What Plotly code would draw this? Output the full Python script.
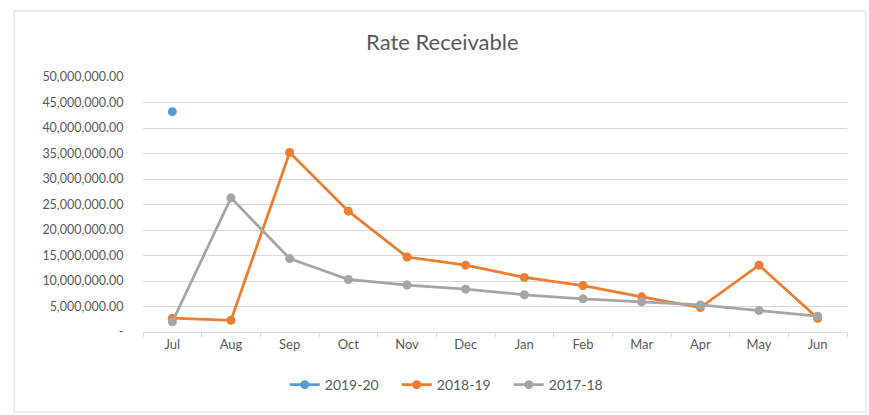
import plotly.graph_objects as go

months = ["Jul", "Aug", "Sep", "Oct", "Nov", "Dec", "Jan", "Feb", "Mar", "Apr", "May", "Jun"]

fy_2019_20 = [43200000, None, None, None, None, None, None, None, None, None, None, None]
fy_2018_19 = [2700000, 2300000, 35200000, 23700000, 14700000, 13100000,
              10700000, 9100000, 6900000, 4800000, 13100000, 2700000]
fy_2017_18 = [2000000, 26300000, 14400000, 10300000, 9200000, 8400000,
              7300000, 6500000, 5900000, 5300000, 4200000, 3100000]

y_ticks = [0, 5e6, 10e6, 15e6, 20e6, 25e6, 30e6, 35e6, 40e6, 45e6, 50e6]
y_tick_text = ["-"] + [f"{v:,.2f}" for v in y_ticks[1:]]

INK = "#595959"
GRID = "#d9d9d9"
FONT = "Lato, 'Open Sans', sans-serif"

series = [
    ("2019-20", fy_2019_20, "#5B9BD5"),
    ("2018-19", fy_2018_19, "#ED7D31"),
    ("2017-18", fy_2017_18, "#A5A5A5"),
]

fig = go.Figure()
for name, vals, color in series:
    fig.add_trace(go.Scatter(
        x=months, y=vals, name=name, mode="lines+markers",
        line=dict(color=color, width=2.75),
        marker=dict(size=9, color=color),
        connectgaps=False,
    ))

fig.update_layout(
    width=869, height=415,
    paper_bgcolor="white", plot_bgcolor="white",
    font=dict(family=FONT, color=INK, size=13),
    title=dict(text="Rate Receivable", x=0.509, xref="container", xanchor="center",
               y=0.899, yref="container", yanchor="middle",
               font=dict(family=FONT, color=INK, size=22)),
    margin=dict(l=143, r=22, t=77, b=83),
    showlegend=True,
    legend=dict(orientation="h", x=0.44, xanchor="center", y=-0.208, yanchor="middle",
                font=dict(size=14, color=INK), bgcolor="rgba(0,0,0,0)",
                entrywidth=67, entrywidthmode="pixels", traceorder="normal"),
    xaxis=dict(range=[-0.5, 11.5], showgrid=False, showline=True, linecolor=GRID,
               ticks="outside", tickcolor=GRID, ticklen=4,
               tickfont=dict(size=13, color=INK), tickson="boundaries", fixedrange=True),
    yaxis=dict(range=[0, 50e6], tickvals=y_ticks, ticktext=y_tick_text,
               gridcolor=GRID, gridwidth=1, zeroline=False, showline=False,
               ticks="outside", ticklen=16, tickcolor="rgba(0,0,0,0)",
               tickfont=dict(size=12.5, color=INK)),
    shapes=[dict(type="rect", xref="paper", yref="paper",
                 x0=-0.183, x1=1.027, y0=-0.314, y1=1.259,
                 line=dict(color="#d9d9d9", width=1), fillcolor="rgba(0,0,0,0)",
                 layer="below")],
)

# page body has a default 8px margin; drop it so the figure sits at the window origin
fig.write_html("out.html", config={"displayModeBar": False},
               post_script="document.body.style.margin='0';")
